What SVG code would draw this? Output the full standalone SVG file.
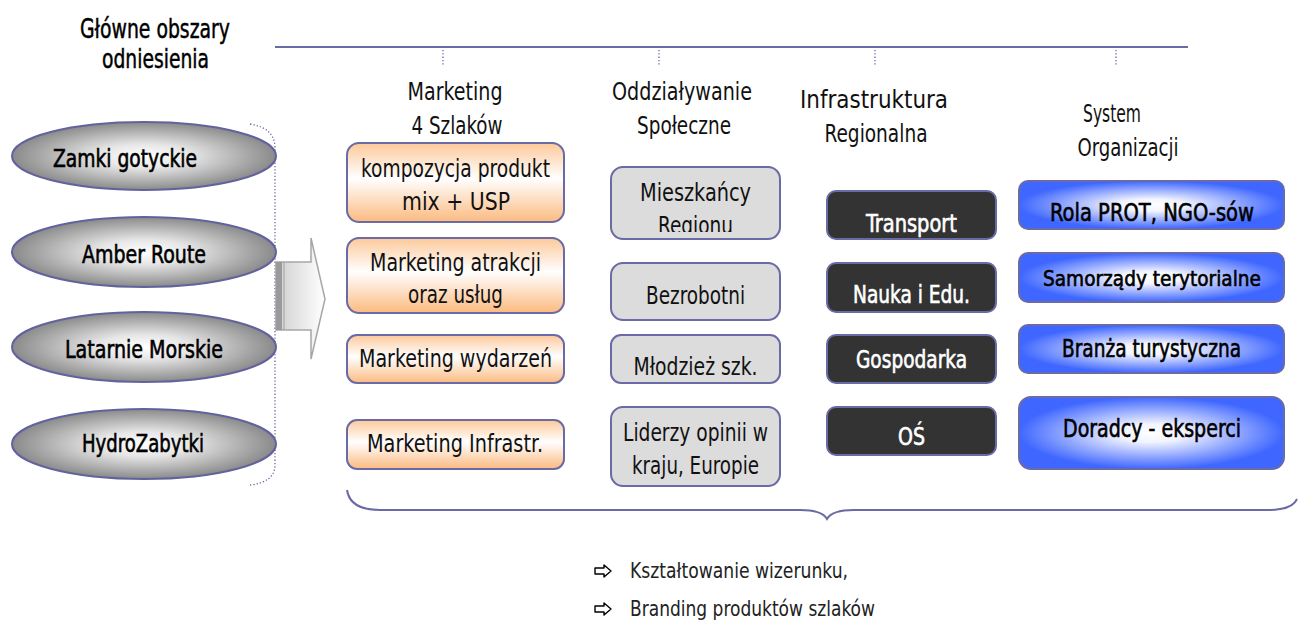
<svg xmlns="http://www.w3.org/2000/svg" width="1298" height="623" viewBox="0 0 1298 623">
<defs>
<radialGradient id="gEll" cx="0.5" cy="0.5" r="0.5">
<stop offset="0" stop-color="#ffffff"/>
<stop offset="0.35" stop-color="#e6e6e6"/>
<stop offset="1" stop-color="#8a8a8a"/>
</radialGradient>
<linearGradient id="gOr" x1="0" y1="0" x2="0" y2="1">
<stop offset="0" stop-color="#fcc99a"/>
<stop offset="0.45" stop-color="#ffffff"/>
<stop offset="1" stop-color="#fbba80"/>
</linearGradient>
<radialGradient id="gBl" cx="0.5" cy="0.5" r="0.5">
<stop offset="0" stop-color="#ffffff"/>
<stop offset="0.25" stop-color="#f2f4ff"/>
<stop offset="1" stop-color="#3f67ff"/>
</radialGradient>
<linearGradient id="gAr" x1="0" y1="0" x2="1" y2="0">
<stop offset="0" stop-color="#cfcfcf"/>
<stop offset="1" stop-color="#ffffff"/>
</linearGradient>
<clipPath id="clipReg"><rect x="612" y="168" width="167" height="64"/></clipPath>
<style>
.t{font-family:"DejaVu Sans Condensed","DejaVu Sans","Liberation Sans",sans-serif;font-stretch:condensed;text-anchor:middle;}
.lt{font-size:25px;fill:#111;}
.md{font-size:25px;fill:#000;stroke:#000;stroke-width:0.6;}
.hd{font-size:25px;fill:#111;}
.ell{fill:url(#gEll);stroke:#62629e;stroke-width:2;}
.or{fill:url(#gOr);stroke:#6a6aa6;stroke-width:2;}
.gr{fill:#dcdcdc;stroke:#6a6aa6;stroke-width:2;}
.dk{fill:#333333;stroke:#6a6aa6;stroke-width:2;}
.bl{fill:url(#gBl);stroke:#6a6aa6;stroke-width:2;}
.wt{fill:#ffffff;stroke:#ffffff;}
.ln{fill:none;stroke:#6a6aa6;stroke-width:2;}
.dot{fill:none;stroke:#6a6aa6;stroke-width:1.3;stroke-dasharray:1.3 2;}
.bt{font-family:"DejaVu Sans Condensed","DejaVu Sans","Liberation Sans",sans-serif;font-stretch:condensed;font-size:21px;fill:#222;}
</style>
</defs>
<rect width="1298" height="623" fill="#ffffff"/>

<g id="title">
<text class="t md" x="155" y="38" textLength="150" lengthAdjust="spacingAndGlyphs" style="font-size:26px;stroke-width:0.45">Główne obszary</text>
<text class="t md" x="155.5" y="68" textLength="107" lengthAdjust="spacingAndGlyphs" style="font-size:26px;stroke-width:0.45">odniesienia</text>
</g>

<g id="connectors">
<line class="ln" x1="275" y1="47" x2="1188" y2="47"/>
<line class="dot" x1="443" y1="50" x2="443" y2="66"/>
<line class="dot" x1="659" y1="50" x2="659" y2="66"/>
<line class="dot" x1="875" y1="50" x2="875" y2="66"/>
<line class="dot" x1="1116" y1="50" x2="1116" y2="66"/>
<path class="dot" d="M250,124 Q275,128 275,148 L275,465 Q275,482 250,485"/>
<g id="bigArrow">
<path d="M276,262 L311,262 L311,238 L325,299 L311,359 L311,330 L276,330 Z" fill="url(#gAr)" stroke="#a6a6a6" stroke-width="1.5"/>
<rect x="276" y="262" width="6" height="68" fill="#9a9a9a"/>
<line x1="284" y1="262" x2="284" y2="330" stroke="#a0a0a0" stroke-width="1"/>
</g>
<path class="ln" d="M347,490 Q350,510 380,510 L800,510 Q822,510 827,519 Q832,510 854,510 L1268,510 Q1292,510 1297,499"/>
</g>

<g id="headers">
<text class="t hd" x="455" y="100" textLength="95" lengthAdjust="spacingAndGlyphs">Marketing</text>
<text class="t hd" x="457" y="134" textLength="91" lengthAdjust="spacingAndGlyphs">4 Szlaków</text>
<text class="t hd" x="682" y="100" textLength="140" lengthAdjust="spacingAndGlyphs">Oddziaływanie</text>
<text class="t hd" x="684" y="134" textLength="94" lengthAdjust="spacingAndGlyphs">Społeczne</text>
<text class="t hd" x="874" y="108" textLength="148" lengthAdjust="spacingAndGlyphs" style="font-size:24px">Infrastruktura</text>
<text class="t hd" x="876" y="142" textLength="103" lengthAdjust="spacingAndGlyphs">Regionalna</text>
<text class="t hd" x="1112" y="122" textLength="58" lengthAdjust="spacingAndGlyphs">System</text>
<text class="t hd" x="1128" y="156" textLength="101" lengthAdjust="spacingAndGlyphs">Organizacji</text>
</g>

<g id="ell1"><ellipse class="ell" cx="144" cy="156" rx="132" ry="34"/>
<text class="t md" x="125" y="167" textLength="144" lengthAdjust="spacingAndGlyphs">Zamki gotyckie</text></g>
<g id="ell2"><ellipse class="ell" cx="144" cy="252" rx="132" ry="35"/>
<text class="t md" x="144" y="263" textLength="124" lengthAdjust="spacingAndGlyphs">Amber Route</text></g>
<g id="ell3"><ellipse class="ell" cx="144" cy="347" rx="132" ry="35"/>
<text class="t md" x="144" y="358" textLength="158" lengthAdjust="spacingAndGlyphs">Latarnie Morskie</text></g>
<g id="ell4"><ellipse class="ell" cx="144" cy="444" rx="132" ry="35"/>
<text class="t md" x="143" y="452" textLength="122" lengthAdjust="spacingAndGlyphs">HydroZabytki</text></g>

<g id="or1"><rect class="or" x="347" y="143" width="217" height="79" rx="12"/>
<text class="t lt" x="455.5" y="177" textLength="189" lengthAdjust="spacingAndGlyphs">kompozycja produkt</text>
<text class="t lt" x="456" y="210" textLength="108" lengthAdjust="spacingAndGlyphs">mix + USP</text></g>
<g id="or2"><rect class="or" x="347" y="238" width="217" height="75" rx="12"/>
<text class="t lt" x="455.5" y="271" textLength="171" lengthAdjust="spacingAndGlyphs">Marketing atrakcji</text>
<text class="t lt" x="455.5" y="303" textLength="95" lengthAdjust="spacingAndGlyphs">oraz usług</text></g>
<g id="or3"><rect class="or" x="347" y="335" width="217" height="48" rx="10"/>
<text class="t lt" x="455.5" y="367" textLength="193" lengthAdjust="spacingAndGlyphs">Marketing wydarzeń</text></g>
<g id="or4"><rect class="or" x="347" y="420" width="217" height="49" rx="10"/>
<text class="t lt" x="455" y="452" textLength="176" lengthAdjust="spacingAndGlyphs">Marketing Infrastr.</text></g>

<g id="gr1"><rect class="gr" x="611" y="167" width="169" height="72" rx="12"/>
<text class="t lt" x="695.5" y="201" textLength="111" lengthAdjust="spacingAndGlyphs">Mieszkańcy</text>
<text class="t lt" x="695.5" y="234" textLength="75" lengthAdjust="spacingAndGlyphs" clip-path="url(#clipReg)">Regionu</text></g>
<g id="gr2"><rect class="gr" x="611" y="263" width="169" height="57" rx="12"/>
<text class="t lt" x="695.5" y="304" textLength="99" lengthAdjust="spacingAndGlyphs">Bezrobotni</text></g>
<g id="gr3"><rect class="gr" x="611" y="335" width="169" height="48" rx="10"/>
<text class="t lt" x="695.5" y="375" textLength="124" lengthAdjust="spacingAndGlyphs">Młodzież szk.</text></g>
<g id="gr4"><rect class="gr" x="611" y="407" width="169" height="79" rx="12"/>
<text class="t lt" x="695.5" y="441" textLength="145" lengthAdjust="spacingAndGlyphs">Liderzy opinii w</text>
<text class="t lt" x="695.5" y="474" textLength="127" lengthAdjust="spacingAndGlyphs">kraju, Europie</text></g>

<g id="dk1"><rect class="dk" x="827" y="191" width="169" height="48" rx="9"/>
<text class="t md wt" x="911.5" y="232" textLength="91" lengthAdjust="spacingAndGlyphs">Transport</text></g>
<g id="dk2"><rect class="dk" x="827" y="263" width="169" height="49" rx="9"/>
<text class="t md wt" x="911.5" y="303" textLength="117" lengthAdjust="spacingAndGlyphs">Nauka i Edu.</text></g>
<g id="dk3"><rect class="dk" x="827" y="335" width="169" height="48" rx="9"/>
<text class="t md wt" x="911.5" y="368" textLength="111" lengthAdjust="spacingAndGlyphs">Gospodarka</text></g>
<g id="dk4"><rect class="dk" x="827" y="407" width="169" height="48" rx="9"/>
<text class="t md wt" x="911.5" y="445" textLength="27" lengthAdjust="spacingAndGlyphs">OŚ</text></g>

<g id="bl1"><rect class="bl" x="1019" y="181" width="265" height="48" rx="9"/>
<text class="t md" x="1152" y="221" textLength="204" lengthAdjust="spacingAndGlyphs">Rola PROT, NGO-sów</text></g>
<g id="bl2"><rect class="bl" x="1019" y="253" width="265" height="49" rx="9"/>
<text class="t md" x="1152" y="286" textLength="218" lengthAdjust="spacingAndGlyphs" style="font-size:22px">Samorządy terytorialne</text></g>
<g id="bl3"><rect class="bl" x="1019" y="325" width="265" height="48" rx="9"/>
<text class="t md" x="1151.5" y="357" textLength="179" lengthAdjust="spacingAndGlyphs">Branża turystyczna</text></g>
<g id="bl4"><rect class="bl" x="1019" y="397" width="265" height="72" rx="12"/>
<text class="t md" x="1152" y="437" textLength="178" lengthAdjust="spacingAndGlyphs">Doradcy - eksperci</text></g>

<g id="bullets">
<path d="M595,568 L604,568 L604,565 L611,571 L604,577 L604,574 L595,574 Z" fill="#ffffff" stroke="#000" stroke-width="1.4" stroke-linejoin="round"/>
<text class="bt" x="630" y="578" textLength="218" lengthAdjust="spacingAndGlyphs">Kształtowanie wizerunku,</text>
<path d="M595,606 L604,606 L604,603 L611,609 L604,615 L604,612 L595,612 Z" fill="#ffffff" stroke="#000" stroke-width="1.4" stroke-linejoin="round"/>
<text class="bt" x="630" y="616" textLength="245" lengthAdjust="spacingAndGlyphs">Branding produktów szlaków</text>
</g>
</svg>
